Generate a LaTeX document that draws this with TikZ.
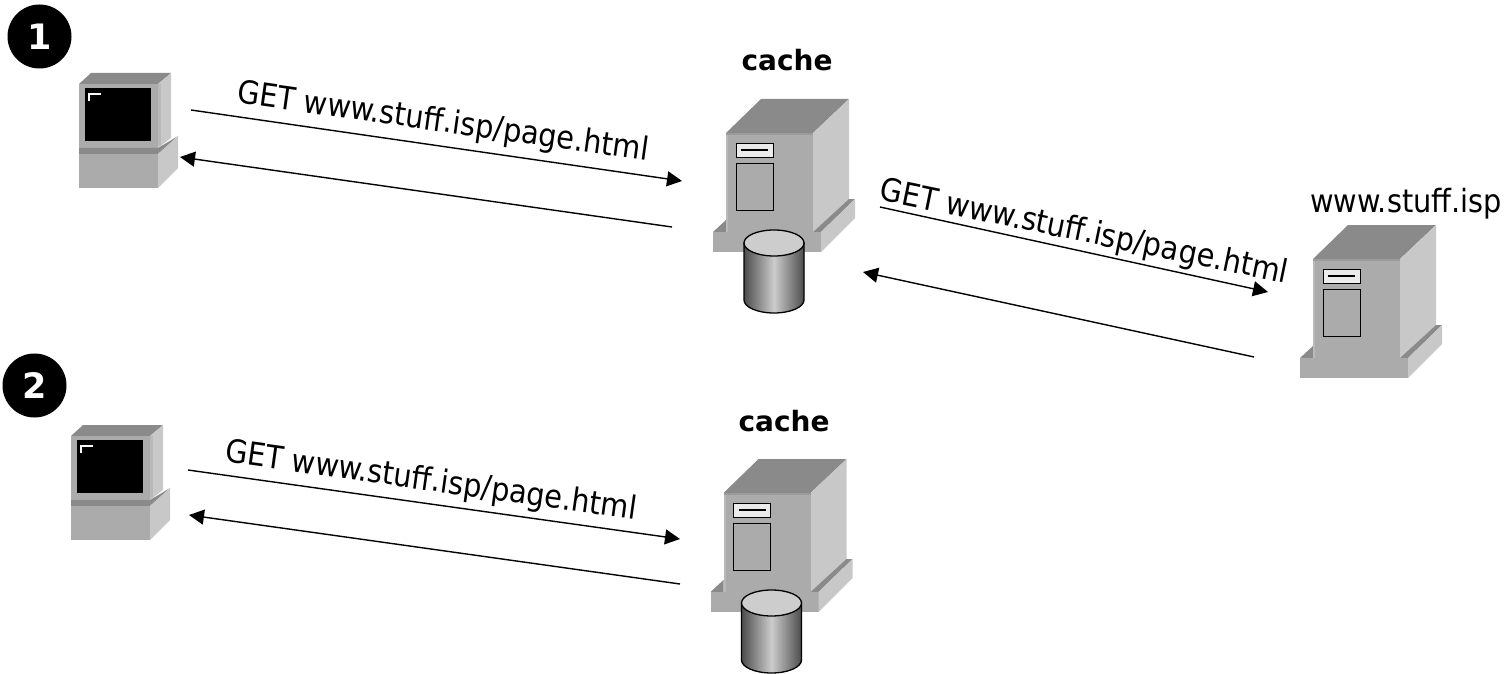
\documentclass[tikz,border=0pt]{standalone}
\usepackage{fontspec}
\setmainfont{DejaVu Sans Condensed}
\newfontfamily\heavyfont{DejaVu Sans Bold}
\usetikzlibrary{arrows.meta}
\definecolor{facegray}{HTML}{ABABAB}
\definecolor{edgegray}{HTML}{B9B9B9}
\definecolor{sidegray}{HTML}{C8C8C8}
\definecolor{topgray}{HTML}{8A8A8A}
\tikzset{
  msg/.style={-{Triangle[length=15pt,width=15pt]},line width=1.4pt},
  msgtext/.style={font=\fontsize{32}{32}\selectfont,inner sep=0pt},
  tag/.style={font=\fontsize{32}{32}\selectfont,inner sep=0pt},
  boldtag/.style={font=\fontsize{28}{28}\heavyfont,inner sep=0pt},
  badge/.style={circle,fill=black,text=white,inner sep=0pt,minimum size=64pt,font=\fontsize{35}{35}\heavyfont},
  server/.pic={
    \fill[topgray] (0,0) -- (35,-34) -- (123,-34) -- (87,0) -- cycle;
    \fill[sidegray] (87,0) -- (123,-34) -- (123,66) -- (87,99) -- cycle;
    \fill[topgray] (-13,99) -- (0,87) -- (0,99) -- cycle;
    \fill[topgray] (87,99) -- (123,66) -- (129,66) -- (95,99) -- cycle;
    \fill[facegray] (0,0) rectangle (87,99);
    \fill[edgegray] (0,0) rectangle (2,99);
    \fill[topgray!50!facegray] (0,0) rectangle (87,2);
    \fill[facegray] (-13,99) rectangle (95,119);
    \fill[sidegray] (95,99) -- (129,66) -- (129,85) -- (95,119) -- cycle;
    \draw[black,line width=.8pt,fill=black!8] (10,10) rectangle (47,24);
    \draw[black,line width=1.3pt] (15,17) -- (42,17);
    \draw[black,line width=.8pt,fill=facegray] (10,30) rectangle (47,77);
  },
  drum/.pic={
    \draw[black,line width=1.3pt,left color=black!70,right color=black!70,middle color=black!20]
      (-30,0) -- (-30,57) arc[start angle=180,end angle=360,x radius=30,y radius=-13] -- (30,0) -- cycle;
    \draw[black,line width=1.3pt,fill=sidegray!90!white] (0,0) ellipse[x radius=30,y radius=13];
  },
  pc/.pic={
    \fill[topgray] (0,0) -- (12,-11) -- (92,-11) -- (79,0) -- cycle;
    \fill[sidegray] (79,0) -- (92,-11) -- (92,54) -- (79,64) -- cycle;
    \fill[facegray] (0,0) rectangle (79,64);
    \fill[edgegray] (79,0) rectangle (82,62);
    \fill[black] (6,4) rectangle (72,57);
    \draw[white,line width=1.2pt] (10,17) |- (22,10);
    \fill[topgray] (0,64) -- (79,64) -- (99,52) -- (79,70) -- (0,70) -- cycle;
    \fill[facegray] (0,70) rectangle (79,104);
    \fill[sidegray] (79,70) -- (99,52) -- (99,84) -- (79,104) -- cycle;
  }
}
\begin{document}
\begin{tikzpicture}[x=1pt,y=-1pt]
	\useasboundingbox (0,0) rectangle (1507,674);
	\node[badge] (one) at (39.5,36.5) {1};
	\pic at (79,84) {pc};
	\pic at (726,133) {server};
	\pic at (774,243) {drum};
	\pic at (1313,259) {server};
	\node[boldtag] (cacheA) at (787,60) {cache};
	\node[tag] (web) at (1406,204) {www.stuff.isp};
	%
	\coordinate (pcAout) at (191,110);
	\coordinate (cacheAin) at (682,181);
	\coordinate (cacheAout) at (672,227);
	\coordinate (pcAin) at (180,157);
	\coordinate (cacheAfwd) at (880,207);
	\coordinate (webin) at (1268,292);
	\coordinate (webout) at (1254,357);
	\coordinate (cacheAback) at (863,272);
	\draw[msg] (pcAout) -- (cacheAin);
	\draw[msg] (cacheAout) -- (pcAin);
	\draw[msg] (cacheAfwd) -- (webin);
	\draw[msg] (webout) -- (cacheAback);
	\node[msgtext,rotate=-8] (getA) at (443,123) {GET www.stuff.isp/page.html};
	\node[msgtext,rotate=-11.6] (getB) at (1084,233) {GET www.stuff.isp/page.html};

	\node[badge] (two) at (34.5,385.5) {2};
	\pic at (71,436) {pc};
	\pic at (723.5,493) {server};
	\pic at (771.5,603) {drum};
	\node[boldtag] (cacheB) at (784,421) {cache};
	%
	\coordinate (pcBout) at (188,470);
	\coordinate (cacheBin) at (680,539);
	\coordinate (cacheBout) at (680,584);
	\coordinate (pcBin) at (189,515);
	\draw[msg] (pcBout) -- (cacheBin);
	\draw[msg] (cacheBout) -- (pcBin);
	\node[msgtext,rotate=-8] (getC) at (431,482) {GET www.stuff.isp/page.html};
\end{tikzpicture}
\end{document}
